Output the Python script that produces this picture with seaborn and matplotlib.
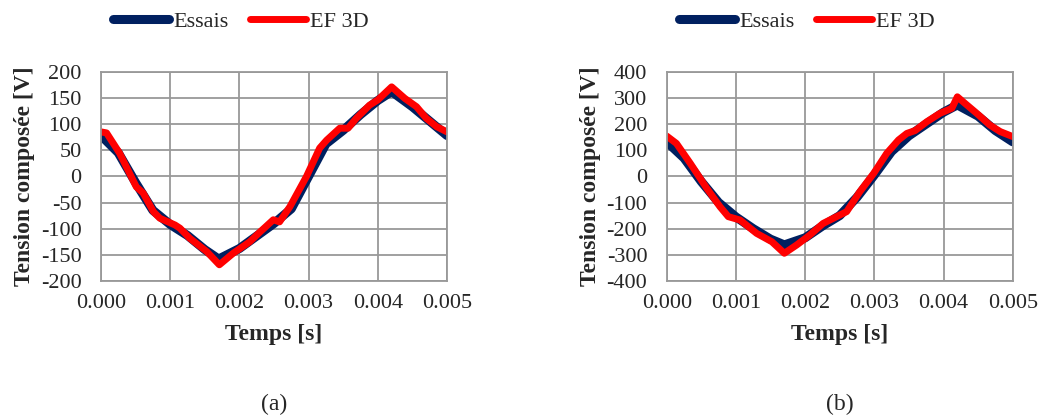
import matplotlib
matplotlib.use("Agg")
import matplotlib.pyplot as plt
import seaborn as sns

# panel (a) - measured (Essais)
t_essais_a = [0, 0.00025, 0.0005, 0.00075, 0.001, 0.00125, 0.0015, 0.0017, 0.002,
              0.0025, 0.00275, 0.003, 0.00325, 0.0035, 0.00375, 0.004, 0.0042,
              0.0045, 0.0048, 0.005]
v_essais_a = [78, 45, -12, -65, -92, -113, -140, -158, -138,
              -90, -62, 0, 62, 88, 118, 145, 162, 133, 100, 78]

# panel (a) - 3D FE model
t_ef_a = [0, 0.00008, 0.00027, 0.00051, 0.00061, 0.00076, 0.00085, 0.00107, 0.00114,
          0.00128, 0.00153, 0.00171, 0.00191, 0.00215, 0.0023, 0.00249, 0.00258,
          0.00273, 0.00297, 0.00316, 0.00326, 0.00345, 0.00357, 0.00369, 0.00388,
          0.004, 0.0042, 0.00439, 0.00456, 0.0047, 0.00485, 0.005]
v_ef_a = [85, 83, 44, -20, -32, -68, -80, -93, -99,
          -118, -144, -169, -147, -125, -106, -83, -87,
          -58, 0, 54, 69, 92, 92, 111, 136,
          146, 171, 149, 133, 111, 95, 85]

# panel (b) - measured (Essais)
t_essais_b = [0, 0.00025, 0.0005, 0.00075, 0.001, 0.00125, 0.0015, 0.0017, 0.002,
              0.00225, 0.0025, 0.00275, 0.003, 0.00325, 0.0035, 0.00375, 0.004,
              0.0042, 0.0045, 0.00475, 0.005]
v_essais_b = [132, 70, -20, -100, -155, -200, -240, -262, -235,
              -190, -150, -80, 5, 95, 155, 200, 245, 273, 230, 175, 132]

# panel (b) - 3D FE model
t_ef_b = [0, 0.00014, 0.00034, 0.00058, 0.00077, 0.00089, 0.00106, 0.0013, 0.00152,
          0.0017, 0.00188, 0.00207, 0.00226, 0.0025, 0.0026, 0.00279, 0.00299,
          0.00318, 0.00335, 0.00347, 0.00359, 0.00376, 0.00395, 0.00412, 0.0042,
          0.00431, 0.00448, 0.00467, 0.00482, 0.005]
v_ef_b = [154, 126, 50, -46, -116, -154, -167, -218, -250,
          -294, -262, -224, -180, -148, -135, -59, 11,
          88, 139, 164, 175, 209, 241, 260, 304,
          279, 241, 196, 171, 152]

x_ticks = [0.000, 0.001, 0.002, 0.003, 0.004, 0.005]
y_ticks_a = list(range(-200, 201, 50))
y_ticks_b = list(range(-400, 401, 100))

BLUE = "#002060"
RED = "#ff0000"
GRID = "#999999"

sns.set_style("white")
plt.rcParams["font.family"] = ["Liberation Serif", "DejaVu Serif"]
plt.rcParams["axes.unicode_minus"] = False

fig = plt.figure(figsize=(10.4, 4.17), dpi=100)


def draw_panel(ax, t_m, v_m, t_s, v_s, yticks, caption, legend_x):
    sns.lineplot(x=t_m, y=v_m, ax=ax, color=BLUE, lw=6.5, sort=False,
                 label="Essais", solid_capstyle="round", solid_joinstyle="round")
    sns.lineplot(x=t_s, y=v_s, ax=ax, color=RED, lw=5, sort=False,
                 label="EF 3D", solid_capstyle="round", solid_joinstyle="round")
    ax.set_xlim(x_ticks[0], x_ticks[-1])
    ax.set_ylim(yticks[0], yticks[-1])
    ax.set_xticks(x_ticks)
    ax.set_xticklabels([f"{v:.3f}" for v in x_ticks])
    ax.set_yticks(yticks)
    ax.grid(True, color=GRID, lw=1.3)
    for s in ax.spines.values():
        s.set_color(GRID)
        s.set_linewidth(1.3)
    ax.tick_params(axis="both", length=0, labelsize=16)
    ax.tick_params(axis="y", pad=14)
    ax.tick_params(axis="x", pad=9)
    ax.set_xlabel("Temps [s]", fontsize=17, fontweight="bold", labelpad=8)
    ax.set_ylabel("Tension composée [V]", fontsize=17, fontweight="bold", labelpad=4)
    ax.legend(loc="center", bbox_to_anchor=(legend_x, 1 - 22 / 417),
              bbox_transform=fig.transFigure, ncol=2, frameon=False,
              fontsize=16, handlelength=2.5, handletextpad=0.2,
              columnspacing=1.0)
    ax.text(0.5, -0.59, caption, transform=ax.transAxes, ha="center", va="center",
            fontsize=17)


ax_a = fig.add_axes([101 / 1040, 136 / 417, 346 / 1040, 209.3 / 417])
ax_b = fig.add_axes([666.7 / 1040, 136 / 417, 346 / 1040, 209.3 / 417])

draw_panel(ax_a, t_essais_a, v_essais_a, t_ef_a, v_ef_a, y_ticks_a, "(a)", 241 / 1040)
draw_panel(ax_b, t_essais_b, v_essais_b, t_ef_b, v_ef_b, y_ticks_b, "(b)", 807 / 1040)

fig.savefig("out.png", dpi=100)
